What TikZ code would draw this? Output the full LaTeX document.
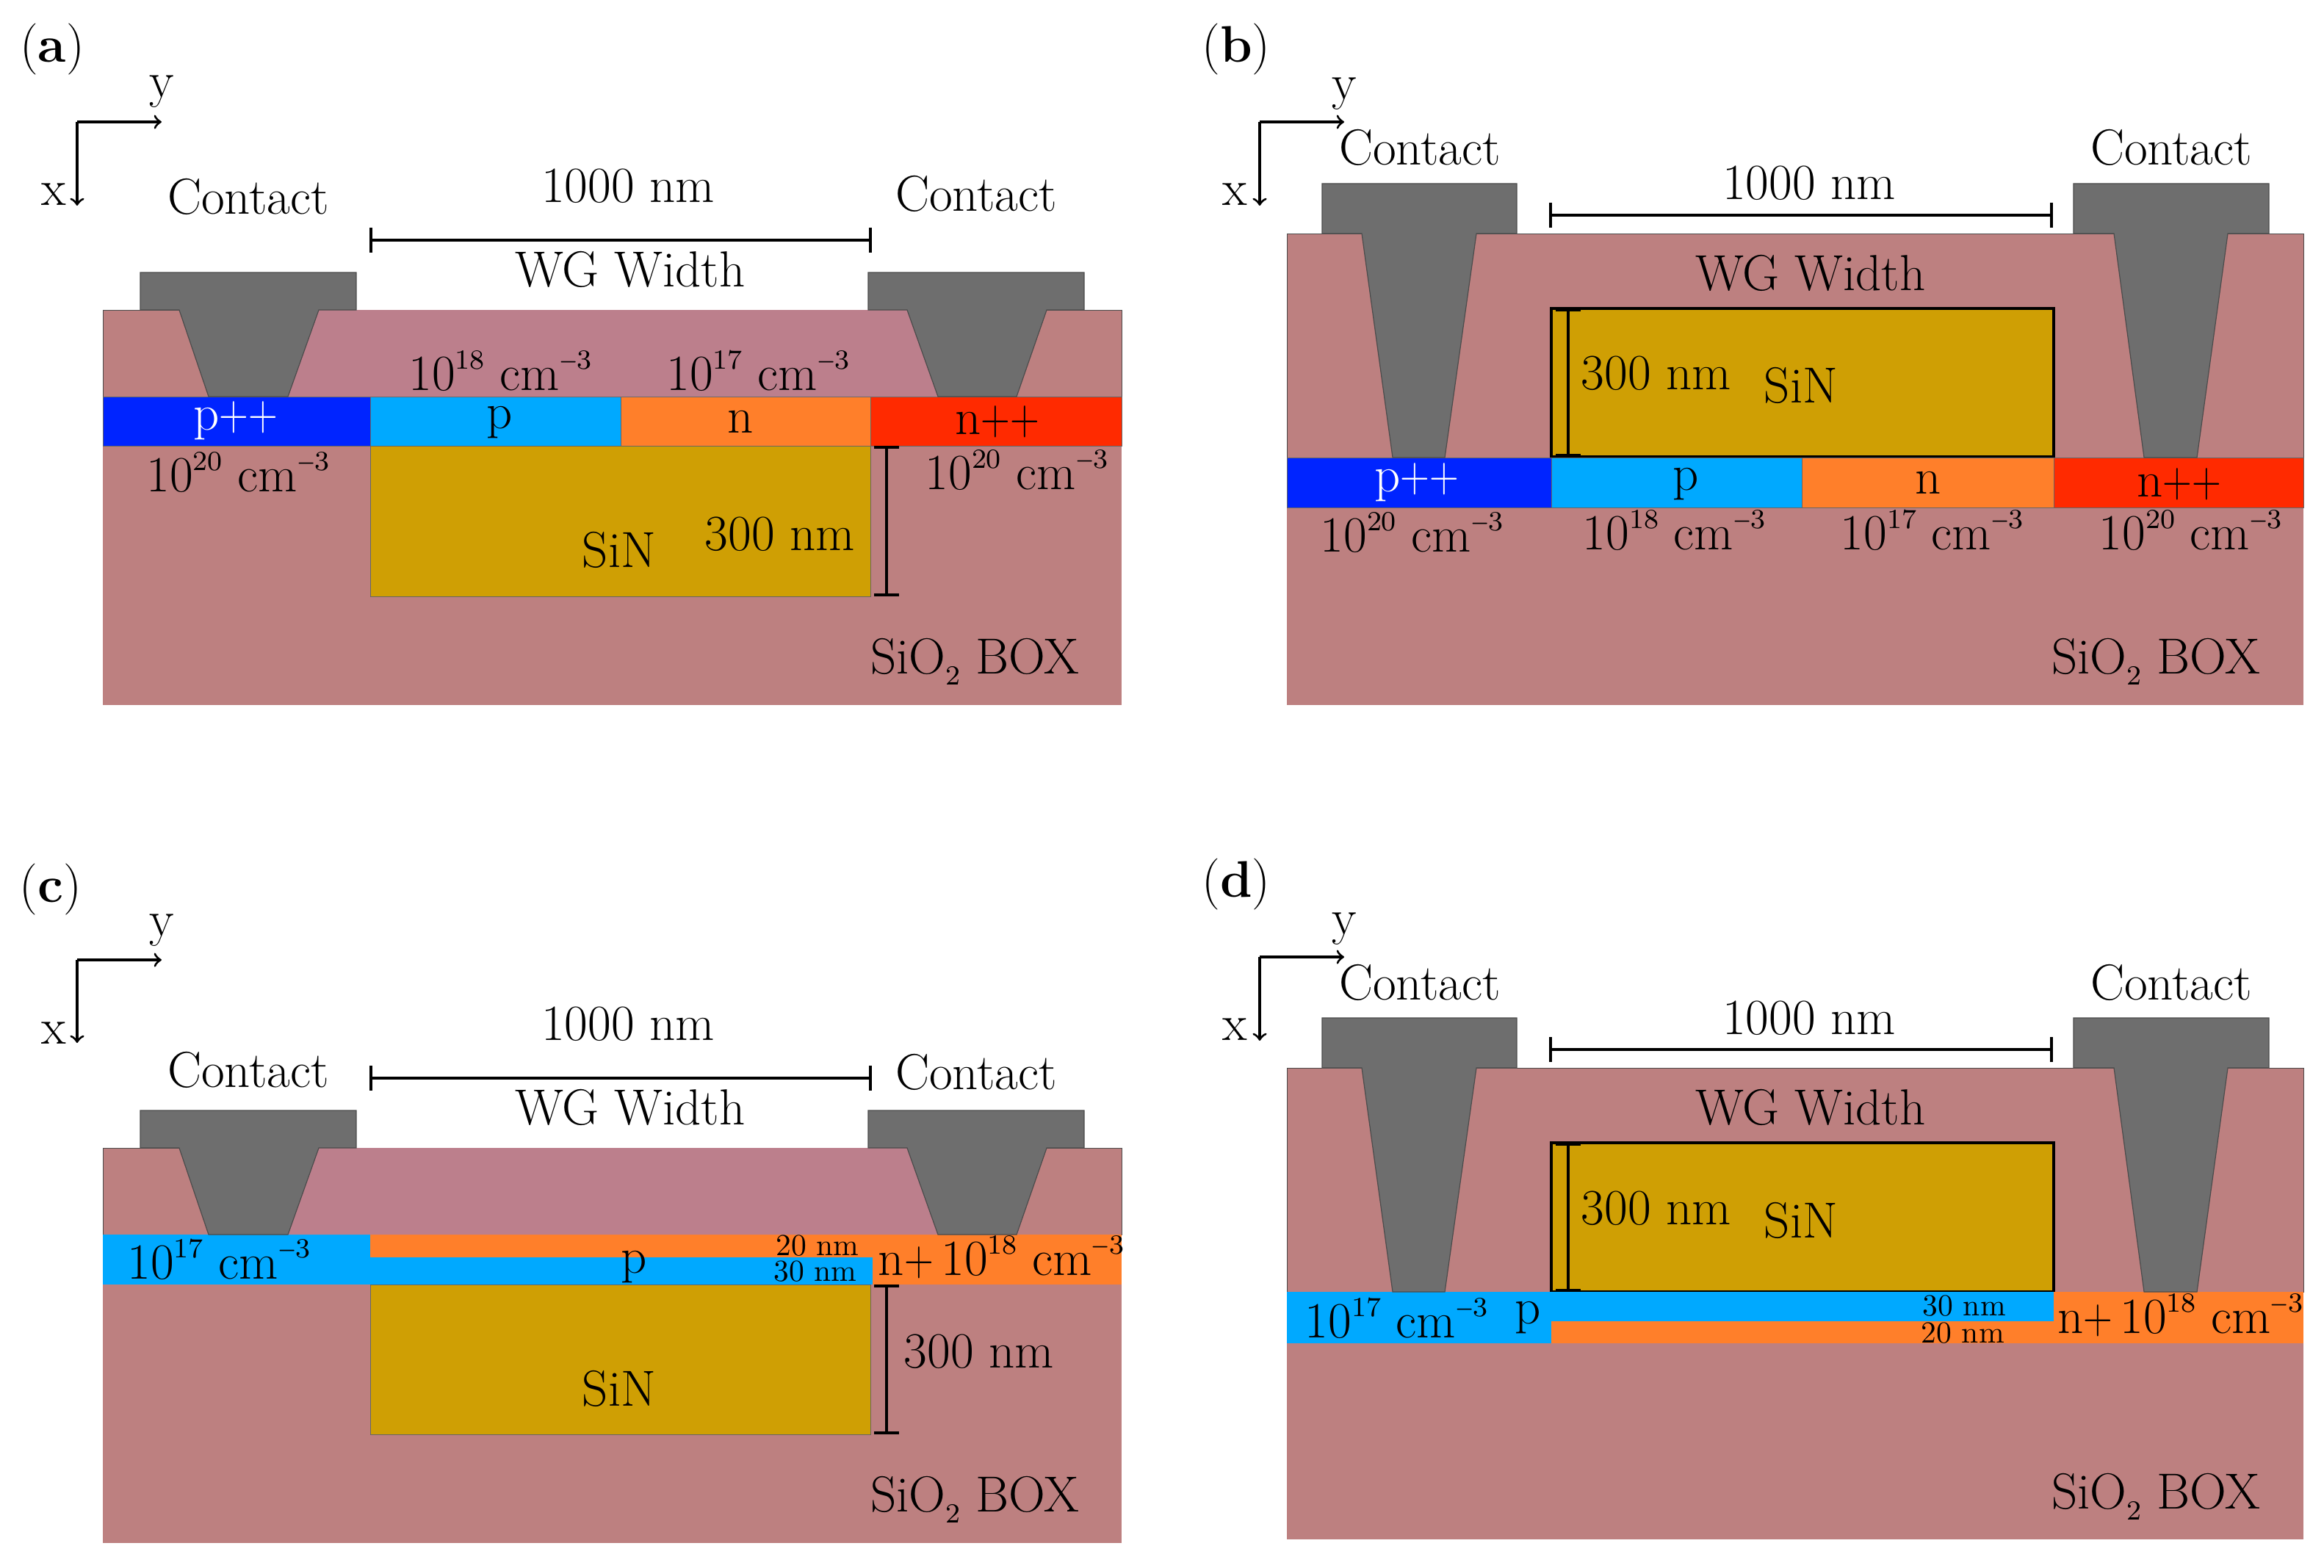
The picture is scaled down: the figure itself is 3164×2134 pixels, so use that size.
\documentclass[tikz,border=0pt]{standalone}
\usepackage{graphicx}
\definecolor{boxcol}{HTML}{BD8080}
\definecolor{cladcol}{HTML}{BC7F8C}
\definecolor{sincol}{HTML}{CF9F04}
\definecolor{metalcol}{HTML}{6E6E6E}
\definecolor{ppcol}{HTML}{0024FF}
\definecolor{pcol}{HTML}{00A9FF}
\definecolor{ncol}{HTML}{FF7F2A}
\definecolor{nncol}{HTML}{FF2A00}
\newcommand{\upnum}[1]{\raisebox{0.42em}{\fontsize{8.4}{10}\selectfont #1}}
\newcommand{\dose}[1]{10\upnum{#1} cm\upnum{\scalebox{0.75}[1]{−}3}}
\newcommand{\thinplus}{\scalebox{0.8}[1]{+}}
\newcommand{\boxtext}{SiO\raisebox{-0.22em}{\fontsize{8.4}{10}\selectfont 2} BOX}
\begin{document}
\begin{tikzpicture}
        [x=0.25pt,y=-0.25pt,
        regiondecorate/.style={draw=black!60,line width=0.2pt},%
        claddecorate/.style={draw=black!70,line width=0.25pt},%
        contactdecorate/.style={fill=metalcol,draw=black!70,line width=0.3pt},%
        dimdecorate/.style={|-|,line width=1.1pt},%
        axisdecorate/.style={->,line width=0.8pt},%
        maintext/.style={inner sep=0pt,scale=1.12,font=\fontsize{15.4}{18}\selectfont},%
        whitetext/.style={maintext,text=white},%
        smalltext/.style={inner sep=0pt,font=\fontsize{10.4}{12}\selectfont},%
        paneltext/.style={inner sep=0pt,font=\fontsize{17.5}{20}\selectfont}]
        \useasboundingbox (0,0) rectangle (3164,2134);
        %% box and cladding
        \foreach \xa/\ya/\xb/\yb in { 140/540/1527/960, 1752/623/3136/960,
          140/1681/1527/2101, 1752/1759/3136/2096}
        {
          \fill[boxcol] (\xa,\ya) rectangle (\xb,\yb);
        }
        \foreach \xa/\ya/\xb/\yb in { 140/422/1527/540, 1752/318/3136/623,
          140/1563/1527/1681, 1752/1454/3136/1759}
        {
          \fill[claddecorate,fill=boxcol] (\xa,\ya) rectangle (\xb,\yb);
        }
        %% core
        \foreach \xa/\ya/\xb/\yb in {504/607/1185/812, 504/1749/1185/1953}
        {
          \fill[regiondecorate,fill=sincol] (\xa,\ya) rectangle (\xb,\yb);
        }
        \foreach \xa/\ya/\xb/\yb in {2112/420/2796/622, 2112/1556/2796/1759}
        {
          \fill[draw=black,line width=0.8pt,fill=sincol] (\xa,\ya) rectangle (\xb,\yb);
        }
        %% doped layers
        \foreach \xa/\ya/\xb/\yb/\col in { 140/540/504/607/ppcol, 504/540/845/607/pcol,
          845/540/1185/607/ncol, 1185/540/1527/607/nncol,
          1752/623/2112/691/ppcol, 2112/623/2453/691/pcol, 2453/623/2796/691/ncol, 2796/623/3136/691/nncol}
        {
          \fill[regiondecorate,fill=\col] (\xa,\ya) rectangle (\xb,\yb);
        }
        \foreach \xa/\ya/\xb/\yb/\col in { 504/1681/1527/1712/ncol, 1188/1712/1527/1749/ncol,
          140/1681/504/1749/pcol, 504/1712/1188/1749/pcol,
          1752/1759/2112/1829/pcol, 2112/1759/2796/1799/pcol,
          2112/1799/2796/1829/ncol, 2796/1759/3136/1829/ncol}
        {
          \fill[\col] (\xa,\ya) rectangle (\xb,\yb);
        }
        %% contacts on the left column
        \foreach \dy in {0,1141}
        {
          \begin{scope}[shift={(0,\dy)}]
            \fill[fill=cladcol] (434,422) -- (1235,422) -- (1277,540) -- (392,540) -- cycle;
            \foreach \xa/\xb/\xc/\xd/\xe/\xf in {191/244/284/392/434/485, 1182/1235/1277/1384/1425/1476}
            {
              \fill[contactdecorate] (\xa,371) -- (\xf,371) -- (\xf,422) -- (\xe,422) -- (\xd,540)
                -- (\xc,540) -- (\xb,422) -- (\xa,422) -- cycle;
            }
          \end{scope}
        }
        %% contacts on the right column
        \foreach \dy in {0,1136}
        {
          \begin{scope}[shift={(0,\dy)}]
            \foreach \xa/\xb/\xc/\xd/\xe/\xf in {1800/1854/1896/1967/2010/2065, 2823/2878/2919/2991/3033/3089}
            {
              \fill[contactdecorate] (\xa,250) -- (\xf,250) -- (\xf,318) -- (\xe,318) -- (\xd,623)
                -- (\xc,623) -- (\xb,318) -- (\xa,318) -- cycle;
            }
          \end{scope}
        }
        %% axes and dimension lines
        \foreach \nodename/\xa/\ya/\xb/\yb/\xc/\yc in {
          a/105/166/220/166/105/280, b/1715/166/1830/166/1715/280,
          c/105/1307/220/1307/105/1420, d/1715/1303/1830/1303/1715/1417}
        {
          \coordinate (\nodename origin) at (\xa,\ya);
          \coordinate (\nodename yend) at (\xb,\yb);
          \coordinate (\nodename xend) at (\xc,\yc);
          \draw[axisdecorate] (\nodename origin) -- (\nodename yend);
          \draw[axisdecorate] (\nodename origin) -- (\nodename xend);
        }
        \foreach \nodename/\xa/\ya/\xb/\yb in {
          awidth/503/327/1187/327, bwidth/2109/293/2795/293,
          cwidth/503/1468/1187/1468, dwidth/2109/1429/2795/1429,
          aheight/1207/607/1207/812, bheight/2135/420/2135/622,
          cheight/1207/1749/1207/1953, dheight/2135/1556/2135/1759}
        {
          \coordinate (\nodename start) at (\xa,\ya);
          \coordinate (\nodename end) at (\xb,\yb);
          \draw[dimdecorate] (\nodename start) -- (\nodename end);
        }
        %% labels
        \foreach \nodename/\x/\y/\look/\labeltext in {
          apanel/71/67/paneltext/(\textbf{a}), ay/220/125/maintext/y, ax/73/265/maintext/x,
          acontactl/338/268/maintext/Contact, acontactr/1329/264/maintext/Contact,
          awidthval/855/253/maintext/1000 nm, awg/858/367/maintext/WG Width,
          apdose/681/505/maintext/\dose{18}, andose/1032/505/maintext/\dose{17},
          app/321/573/whitetext/p\thinplus\thinplus, ap/680/575/maintext/p, an/1008/574/maintext/n, ann/1358/574/maintext/n\thinplus\thinplus,
          appdose/324/643/maintext/\dose{20}, anndose/1384/640/maintext/\dose{20},
          asin/843/749/maintext/SiN, aheightval/1062/727/maintext/300 nm, abox/1327/901/maintext/\boxtext,
          %
          bpanel/1683/67/paneltext/(\textbf{b}), by/1830/128/maintext/y, bx/1681/265/maintext/x,
          bcontactl/1933/201/maintext/Contact, bcontactr/2956/201/maintext/Contact,
          bwidthval/2463/249/maintext/1000 nm, bwg/2465/372/maintext/WG Width,
          bpp/1929/657/whitetext/p\thinplus\thinplus, bp/2295/659/maintext/p, bn/2625/657/maintext/n, bnn/2967/659/maintext/n\thinplus\thinplus,
          bppdose/1922/725/maintext/\dose{20}, bpdose/2279/722/maintext/\dose{18},
          bndose/2630/722/maintext/\dose{17}, bnndose/2982/722/maintext/\dose{20},
          bsin/2452/525/maintext/SiN, bheightval/2255/508/maintext/300 nm, bbox/2935/901/maintext/\boxtext,
          %
          cpanel/69/1211/paneltext/(\textbf{c}), cy/220/1267/maintext/y, cx/73/1407/maintext/x,
          ccontactl/338/1457/maintext/Contact, ccontactr/1329/1460/maintext/Contact,
          cwidthval/855/1394/maintext/1000 nm, cwg/858/1508/maintext/WG Width,
          cpdose/298/1715/maintext/\dose{17}, cp/863/1725/maintext/p,
          cndose/1363/1712/maintext/n\thinplus\hspace{0.15em}\dose{18},
          cthinn/1113/1696/smalltext/20 nm, cthinp/1110/1731/smalltext/30 nm,
          csin/843/1891/maintext/SiN, cheightval/1333/1840/maintext/300 nm, cbox/1327/2042/maintext/\boxtext,
          %
          dpanel/1683/1204/paneltext/(\textbf{d}), dy/1830/1265/maintext/y, dx/1681/1402/maintext/x,
          dcontactl/1933/1338/maintext/Contact, dcontactr/2956/1338/maintext/Contact,
          dwidthval/2463/1386/maintext/1000 nm, dwg/2465/1508/maintext/WG Width,
          dpdose/1901/1795/maintext/\dose{17}, dp/2080/1794/maintext/p,
          dndose/2968/1791/maintext/n\thinplus\hspace{0.15em}\dose{18},
          dthinp/2674/1778/smalltext/30 nm, dthinn/2672/1815/smalltext/20 nm,
          dsin/2452/1662/maintext/SiN, dheightval/2255/1645/maintext/300 nm, dbox/2935/2038/maintext/\boxtext}
        {
          \node (\nodename) at (\x,\y) [\look] {\labeltext};
        }
      \end{tikzpicture}
\end{document}
